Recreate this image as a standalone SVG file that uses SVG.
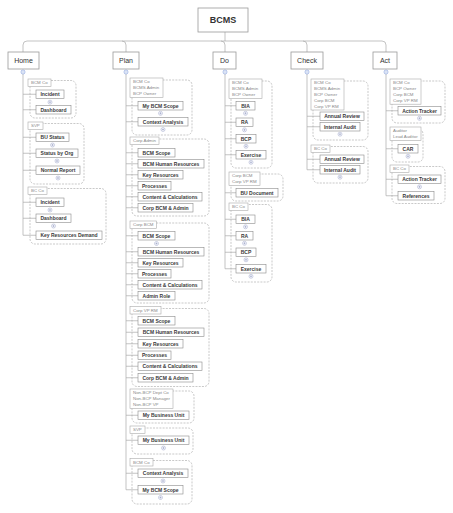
<svg xmlns="http://www.w3.org/2000/svg" xmlns:xlink="http://www.w3.org/1999/xlink" width="453" height="513" viewBox="0 0 453 513">
<style>
text{font-family:"Liberation Sans",Arial,sans-serif}
.top rect{fill:#fff;stroke:#999;stroke-width:0.8}
.tt{font-size:7px;fill:#333;text-anchor:middle}
.it{fill:#fff;stroke:#8a8a8a;stroke-width:0.6}
.t{font-size:5px;font-weight:bold;fill:#3a3a3a;text-anchor:middle}
.lb{fill:#fff;stroke:#aaa;stroke-width:0.6}
.lt{font-size:4.4px;fill:#888}
.g{fill:none;stroke:#a5a5a5;stroke-width:0.6;stroke-dasharray:2 1.2}
#connectors path{fill:none;stroke:#aaa;stroke-width:0.7}
</style>
<defs>
<g id="pl"><circle r="2" fill="#fff" stroke="#9aa3c8" stroke-width="0.5"/><path d="M-1.1,0H1.1M0,-1.1V1.1" stroke="#7d88b8" stroke-width="0.45"/></g>
<g id="mn"><circle r="2" fill="#fff" stroke="#6b8cd6" stroke-width="0.55"/><path d="M-1.1,0H1.1" stroke="#6b8cd6" stroke-width="0.5"/></g>
</defs>
<rect width="453" height="513" fill="#fff"/>
<g id="connectors">
<path d="M225,32V41"/>
<path d="M23,52V45Q23,41 27,41H382Q386,41 386,45V52"/>
<path d="M122,41Q126,41 126,45V52M221,41Q225,41 225,45V52M303,41Q307,41 307,45V52"/>
<path d="M23,74V235.25M23,94.25H36M23,109.75H36M23,137.25H36M23,153.25H36M23,170.25H36M23,202.25H36M23,218.25H36M23,235.25H36"/>
<path d="M126,74V489.75M126,105.75H138M126,121.75H138M126,152.75H138M126,163.75H138M126,174.75H138M126,185.75H138M126,196.75H138M126,207.75H138M126,235.75H138M126,251.75H138M126,262.75H138M126,273.75H138M126,284.75H138M126,295.75H138M126,320.75H138M126,332.25H138M126,343.75H138M126,355.25H138M126,366.25H138M126,377.75H138M126,415.25H138M126,440.25H138M126,473.25H138M126,489.75H138"/>
<path d="M225,74V268.75M225,105.75H236M225,122.25H236M225,138.75H236M225,154.75H236M225,192.75H236M225,219.25H236M225,235.75H236M225,252.25H236M225,268.75H236"/>
<path d="M307,74V169.75M307,116.25H320M307,126.75H320M307,159.25H320M307,169.75H320"/>
<path d="M386,74V195.75M386,110.75H398M386,148.75H398M386,179.25H398M386,195.75H398"/>
</g>
<g id="root" class="top"><rect x="198" y="8" width="50" height="24"/><text class="tt" x="223" y="23.3" fill="#333" style="font-size:9px;font-weight:bold">BCMS</text></g>
<g id="home" class="top"><rect x="8" y="52" width="31" height="17"/><text class="tt" x="23.5" y="63" fill="#333">Home</text><use xlink:href="#mn" x="23" y="72"/></g>
<g id="plan" class="top"><rect x="113" y="52" width="26" height="17"/><text class="tt" x="126" y="63" fill="#333">Plan</text><use xlink:href="#mn" x="126" y="72"/></g>
<g id="do" class="top"><rect x="213" y="52" width="23" height="17"/><text class="tt" x="224.5" y="63" fill="#333">Do</text><use xlink:href="#mn" x="225" y="72"/></g>
<g id="check" class="top"><rect x="291" y="52" width="32" height="17"/><text class="tt" x="307" y="63" fill="#333">Check</text><use xlink:href="#mn" x="307" y="72"/></g>
<g id="act" class="top"><rect x="373" y="52" width="24" height="17"/><text class="tt" x="385" y="63" fill="#333">Act</text><use xlink:href="#mn" x="386" y="72"/></g>

<g id="home-bcmco">
<rect class="g" x="30" y="80.5" width="46" height="37.5" rx="5"/>
<rect class="lb" x="28" y="79" width="23" height="7.5"/><text class="lt" x="31" y="84.3">BCM Co</text>
<rect class="it" x="36" y="90" width="28" height="8.5"/><text class="t" x="50" y="96.1">Incident</text><use xlink:href="#pl" x="50" y="102.2"/>
<rect class="it" x="36" y="105.5" width="35" height="8.5"/><text class="t" x="53.5" y="111.6">Dashboard</text>
</g>
<g id="home-svp">
<rect class="g" x="30" y="123.5" width="54" height="60.5" rx="5"/>
<rect class="lb" x="28" y="122" width="15" height="7.5"/><text class="lt" x="31" y="127.3">SVP</text>
<rect class="it" x="36" y="133" width="33" height="8.5"/><text class="t" x="52.5" y="139.1">BU Status</text><use xlink:href="#pl" x="52.5" y="145"/>
<rect class="it" x="36" y="149" width="42" height="8.5"/><text class="t" x="57" y="155.1">Status by Org</text><use xlink:href="#pl" x="57" y="161"/>
<rect class="it" x="36" y="166" width="44" height="8.5"/><text class="t" x="58" y="172.1">Normal Report</text><use xlink:href="#pl" x="58" y="178"/>
</g>
<g id="home-bcco">
<rect class="g" x="30" y="188.5" width="76" height="55.5" rx="5"/>
<rect class="lb" x="28" y="187" width="19" height="7.5"/><text class="lt" x="31" y="192.3">BC Co</text>
<rect class="it" x="36" y="198" width="28" height="8.5"/><text class="t" x="50" y="204.1">Incident</text><use xlink:href="#pl" x="50" y="210"/>
<rect class="it" x="36" y="214" width="35" height="8.5"/><text class="t" x="53.5" y="220.1">Dashboard</text><use xlink:href="#pl" x="53.5" y="226"/>
<rect class="it" x="36" y="231" width="66" height="8.5"/><text class="t" x="69" y="237.1">Key Resources Demand</text>
</g>

<g id="plan-bcmco">
<rect class="g" x="132" y="80" width="60" height="55" rx="5"/>
<rect class="lb" x="130" y="78" width="33" height="19.4"/><text class="lt" x="133" y="83.3">BCM Co</text><text class="lt" x="133" y="89.1">BCMS Admin</text><text class="lt" x="133" y="94.9">BCP Owner</text>
<rect class="it" x="138" y="101.5" width="45" height="8.5"/><text class="t" x="160.5" y="107.6">My BCM Scope</text><use xlink:href="#pl" x="160.5" y="113.3"/>
<rect class="it" x="138" y="117.5" width="50" height="8.5"/><text class="t" x="163" y="123.6">Context Analysis</text><use xlink:href="#pl" x="163" y="129.5"/>
</g>
<g id="plan-corpadmin">
<rect class="g" x="132" y="139" width="77" height="77" rx="5"/>
<rect class="lb" x="130" y="137" width="29" height="7.5"/><text class="lt" x="133" y="142.3">Corp Admin</text>
<rect class="it" x="138" y="148.5" width="37" height="8.5"/><text class="t" x="156.5" y="154.6">BCM Scope</text>
<rect class="it" x="138" y="159.5" width="66" height="8.5"/><text class="t" x="171" y="165.6">BCM Human Resources</text>
<rect class="it" x="138" y="170.5" width="45" height="8.5"/><text class="t" x="160.5" y="176.6">Key Resources</text>
<rect class="it" x="138" y="181.5" width="33" height="8.5"/><text class="t" x="154.5" y="187.6">Processes</text>
<rect class="it" x="138" y="192.5" width="64" height="8.5"/><text class="t" x="170" y="198.6">Content &amp; Calculations</text>
<rect class="it" x="138" y="203.5" width="55" height="8.5"/><text class="t" x="165.5" y="209.6">Corp BCM &amp; Admin</text>
</g>
<g id="plan-corpbcm">
<rect class="g" x="132" y="223" width="77" height="80" rx="5"/>
<rect class="lb" x="130" y="221" width="26.5" height="7.5"/><text class="lt" x="133" y="226.3">Corp BCM</text>
<rect class="it" x="138" y="231.5" width="37" height="8.5"/><text class="t" x="156.5" y="237.6">BCM Scope</text><use xlink:href="#pl" x="156.5" y="243.5"/>
<rect class="it" x="138" y="247.5" width="66" height="8.5"/><text class="t" x="171" y="253.6">BCM Human Resources</text>
<rect class="it" x="138" y="258.5" width="45" height="8.5"/><text class="t" x="160.5" y="264.6">Key Resources</text>
<rect class="it" x="138" y="269.5" width="33" height="8.5"/><text class="t" x="154.5" y="275.6">Processes</text>
<rect class="it" x="138" y="280.5" width="64" height="8.5"/><text class="t" x="170" y="286.6">Content &amp; Calculations</text>
<rect class="it" x="138" y="291.5" width="37" height="8.5"/><text class="t" x="156.5" y="297.6">Admin Role</text>
</g>
<g id="plan-corpvprm">
<rect class="g" x="132" y="308.5" width="77" height="78" rx="5"/>
<rect class="lb" x="130" y="306.5" width="31" height="7.5"/><text class="lt" x="133" y="311.8">Corp VP RM</text>
<rect class="it" x="138" y="316.5" width="37" height="8.5"/><text class="t" x="156.5" y="322.6">BCM Scope</text>
<rect class="it" x="138" y="328" width="66" height="8.5"/><text class="t" x="171" y="334.1">BCM Human Resources</text>
<rect class="it" x="138" y="339.5" width="45" height="8.5"/><text class="t" x="160.5" y="345.6">Key Resources</text>
<rect class="it" x="138" y="351" width="33" height="8.5"/><text class="t" x="154.5" y="357.1">Processes</text>
<rect class="it" x="138" y="362" width="64" height="8.5"/><text class="t" x="170" y="368.1">Content &amp; Calculations</text>
<rect class="it" x="138" y="373.5" width="55" height="8.5"/><text class="t" x="165.5" y="379.6">Corp BCM &amp; Admin</text>
</g>
<g id="plan-nonbcp">
<rect class="g" x="132" y="391" width="62" height="32" rx="5"/>
<rect class="lb" x="130" y="389" width="43" height="19.4"/><text class="lt" x="133" y="394.3">Non-BCP Dept Co</text><text class="lt" x="133" y="400.1">Non-BCP Manager</text><text class="lt" x="133" y="405.9">Non-BCP VP</text>
<rect class="it" x="138" y="411" width="51" height="8.5"/><text class="t" x="163.5" y="417.1">My Business Unit</text>
</g>
<g id="plan-svp">
<rect class="g" x="132" y="428" width="61" height="26" rx="5"/>
<rect class="lb" x="130" y="426" width="15" height="7.5"/><text class="lt" x="133" y="431.3">SVP</text>
<rect class="it" x="138" y="436" width="51" height="8.5"/><text class="t" x="163.5" y="442.1">My Business Unit</text><use xlink:href="#pl" x="163.5" y="448"/>
</g>
<g id="plan-bcmco2">
<rect class="g" x="132" y="460.5" width="60" height="43.5" rx="5"/>
<rect class="lb" x="130" y="458.5" width="23" height="7.5"/><text class="lt" x="133" y="463.8">BCM Co</text>
<rect class="it" x="138" y="469" width="50" height="8.5"/><text class="t" x="163" y="475.1">Context Analysis</text><use xlink:href="#pl" x="163" y="481"/>
<rect class="it" x="138" y="485.5" width="45" height="8.5"/><text class="t" x="160.5" y="491.6">My BCM Scope</text><use xlink:href="#pl" x="160.5" y="497.5"/>
</g>

<g id="do-bcmco">
<rect class="g" x="231" y="81" width="41" height="87" rx="5"/>
<rect class="lb" x="229" y="79" width="33" height="19.4"/><text class="lt" x="232" y="84.3">BCM Co</text><text class="lt" x="232" y="90.1">BCMS Admin</text><text class="lt" x="232" y="95.9">BCP Owner</text>
<rect class="it" x="236" y="101.5" width="19" height="8.5"/><text class="t" x="245.5" y="107.6">BIA</text><use xlink:href="#pl" x="245.5" y="113.3"/>
<rect class="it" x="236" y="118" width="17" height="8.5"/><text class="t" x="244.5" y="124.1">RA</text><use xlink:href="#pl" x="244.5" y="129.8"/>
<rect class="it" x="236" y="134.5" width="20" height="8.5"/><text class="t" x="246" y="140.6">BCP</text><use xlink:href="#pl" x="246" y="146.3"/>
<rect class="it" x="236" y="150.5" width="30" height="8.5"/><text class="t" x="251" y="156.6">Exercise</text><use xlink:href="#pl" x="251" y="162.3"/>
</g>
<g id="do-corp">
<rect class="g" x="231" y="174" width="52" height="27" rx="5"/>
<rect class="lb" x="229" y="172" width="31" height="13.6"/><text class="lt" x="232" y="177.3">Corp BCM</text><text class="lt" x="232" y="183.1">Corp VP RM</text>
<rect class="it" x="236" y="188.5" width="42" height="8.5"/><text class="t" x="257" y="194.6">BU Document</text>
</g>
<g id="do-bcco">
<rect class="g" x="231" y="204.5" width="41" height="77.5" rx="5"/>
<rect class="lb" x="229" y="203" width="19" height="7.5"/><text class="lt" x="232" y="208.3">BC Co</text>
<rect class="it" x="236" y="215" width="19" height="8.5"/><text class="t" x="245.5" y="221.1">BIA</text><use xlink:href="#pl" x="245.5" y="226.8"/>
<rect class="it" x="236" y="231.5" width="17" height="8.5"/><text class="t" x="244.5" y="237.6">RA</text><use xlink:href="#pl" x="244.5" y="243.3"/>
<rect class="it" x="236" y="248" width="20" height="8.5"/><text class="t" x="246" y="254.1">BCP</text><use xlink:href="#pl" x="246" y="259.8"/>
<rect class="it" x="236" y="264.5" width="30" height="8.5"/><text class="t" x="251" y="270.6">Exercise</text><use xlink:href="#pl" x="251" y="276.3"/>
</g>

<g id="check-bcmco">
<rect class="g" x="313" y="81" width="55" height="59" rx="5"/>
<rect class="lb" x="311" y="79" width="33" height="31"/><text class="lt" x="314" y="84.3">BCM Co</text><text class="lt" x="314" y="90.1">BCMS Admin</text><text class="lt" x="314" y="95.9">BCP Owner</text><text class="lt" x="314" y="101.7">Corp BCM</text><text class="lt" x="314" y="107.5">Corp VP RM</text>
<rect class="it" x="320" y="112" width="44" height="8.5"/><text class="t" x="342" y="118.1">Annual Review</text>
<rect class="it" x="320" y="122.5" width="40" height="8.5"/><text class="t" x="340" y="128.6">Internal Audit</text><use xlink:href="#pl" x="340" y="134.2"/>
</g>
<g id="check-bcco">
<rect class="g" x="313" y="146.5" width="55" height="36.5" rx="5"/>
<rect class="lb" x="311" y="145" width="19" height="7.5"/><text class="lt" x="314" y="150.3">BC Co</text>
<rect class="it" x="320" y="155" width="44" height="8.5"/><text class="t" x="342" y="161.1">Annual Review</text>
<rect class="it" x="320" y="165.5" width="40" height="8.5"/><text class="t" x="340" y="171.6">Internal Audit</text><use xlink:href="#pl" x="340" y="177.2"/>
</g>

<g id="act-bcmco">
<rect class="g" x="392" y="81" width="53" height="42" rx="5"/>
<rect class="lb" x="390" y="79" width="31" height="25.2"/><text class="lt" x="393" y="84.3">BCM Co</text><text class="lt" x="393" y="90.1">BCP Owner</text><text class="lt" x="393" y="95.9">Corp BCM</text><text class="lt" x="393" y="101.7">Corp VP RM</text>
<rect class="it" x="398" y="106.5" width="43" height="8.5"/><text class="t" x="419.5" y="112.6">Action Tracker</text><use xlink:href="#pl" x="419.5" y="118.3"/>
</g>
<g id="act-auditor">
<rect class="g" x="392" y="129" width="31" height="33" rx="5"/>
<rect class="lb" x="390" y="127" width="31" height="13.6"/><text class="lt" x="393" y="132.3">Auditor</text><text class="lt" x="393" y="138.1">Lead Auditor</text>
<rect class="it" x="398" y="144.5" width="20" height="8.5"/><text class="t" x="408" y="150.6">CAR</text><use xlink:href="#pl" x="408" y="156.3"/>
</g>
<g id="act-bcco">
<rect class="g" x="392" y="166.5" width="53" height="37" rx="5"/>
<rect class="lb" x="390" y="165" width="19" height="7.5"/><text class="lt" x="393" y="170.3">BC Co</text>
<rect class="it" x="398" y="175" width="43" height="8.5"/><text class="t" x="419.5" y="181.1">Action Tracker</text><use xlink:href="#pl" x="419.5" y="186.8"/>
<rect class="it" x="398" y="191.5" width="36" height="8.5"/><text class="t" x="416" y="197.6">References</text>
</g>
</svg>
